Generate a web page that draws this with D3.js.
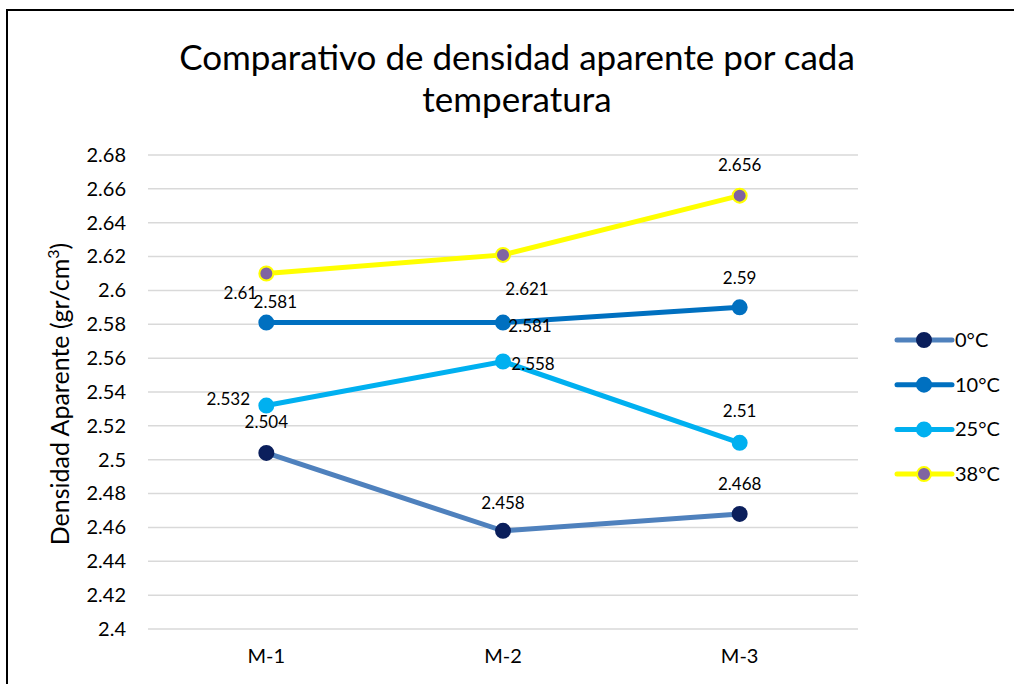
<!DOCTYPE html>
<html>
<head>
<meta charset="utf-8">
<script src="https://cdn.jsdelivr.net/npm/d3@7"></script>
<style>
  body { margin: 0; background: #fff; }
  text { font-family: Lato, "Open Sans", sans-serif; fill: #000; }
</style>
</head>
<body>
<script>
var WIDTH = 1014;
var HEIGHT = 684;

var categories = ["M-1", "M-2", "M-3"];
var seriesNames = ["0°C", "10°C", "25°C", "38°C"];
var values0 = [2.504, 2.458, 2.468];
var values10 = [2.581, 2.581, 2.59];
var values25 = [2.532, 2.558, 2.51];
var values38 = [2.61, 2.621, 2.656];
var yTicks = [2.4, 2.42, 2.44, 2.46, 2.48, 2.5, 2.52, 2.54, 2.56, 2.58, 2.6, 2.62, 2.64, 2.66, 2.68];

// styling per series
var lineColors = ["#4f81bd", "#0070c0", "#00b0f0", "#ffff00"];
var markerFill = ["#0b1f5c", "#0070c0", "#00b0f0", "#8064a2"];
var markerStroke = ["#0b1f5c", "#0070c0", "#00b0f0", "#ffff00"];
// label offsets (dx, dy) from each point, as placed in the original
var labelOffsets = [
  [[0, -29], [0, -26], [0, -28]],
  [[9, -19], [27, 5], [0, -28]],
  [[-38, -5], [30, 4], [0, -30]],
  [[-26, 21], [24, 36], [0, -29]]
];

var allValues = [values0, values10, values25, values38];

var svg = d3.select("body")
  .append("svg")
  .attr("width", WIDTH)
  .attr("height", HEIGHT);

svg.append("rect")
  .attr("width", WIDTH).attr("height", HEIGHT)
  .attr("fill", "#fff");

// outer border (right and bottom edges fall outside the picture)
svg.append("path")
  .attr("d", "M7,700 L7,10 L1030,10")
  .attr("fill", "none")
  .attr("stroke", "#000")
  .attr("stroke-width", 2);

var plotLeft = 148, plotRight = 858, plotTop = 155, plotBottom = 629;

var x = d3.scaleBand().domain(categories).range([plotLeft, plotRight]);
var y = d3.scaleLinear().domain([2.4, 2.68]).range([plotBottom, plotTop]);

// gridlines
svg.append("g")
  .selectAll("line")
  .data(yTicks)
  .enter()
  .append("line")
  .attr("x1", plotLeft).attr("x2", plotRight)
  .attr("y1", function (d) { return y(d); })
  .attr("y2", function (d) { return y(d); })
  .attr("stroke", "#d9d9d9")
  .attr("stroke-width", 1.5);

// y axis labels
var yAxis = svg.append("g")
  .attr("transform", "translate(" + (plotLeft - 10) + ",0)")
  .call(d3.axisLeft(y).tickValues(yTicks).tickSize(0).tickPadding(12)
    .tickFormat(function (d) { return String(+d.toFixed(2)); }));
yAxis.select(".domain").remove();
yAxis.selectAll("text").style("font-size", "20px").attr("fill", "#000");

// x axis labels
var xAxis = svg.append("g")
  .attr("transform", "translate(0," + plotBottom + ")")
  .call(d3.axisBottom(x).tickSize(0).tickPadding(20));
xAxis.select(".domain").remove();
xAxis.selectAll("text").style("font-size", "20px").attr("fill", "#000");

// title
svg.append("text")
  .attr("x", 517).attr("y", 70)
  .attr("text-anchor", "middle")
  .style("font-size", "35px")
  .text("Comparativo de densidad aparente por cada");
svg.append("text")
  .attr("x", 517).attr("y", 112)
  .attr("text-anchor", "middle")
  .style("font-size", "35px")
  .text("temperatura");

// y axis title
var yt = svg.append("text")
  .attr("transform", "translate(69," + ((plotTop + plotBottom) / 2 + 2) + ") rotate(-90)")
  .attr("text-anchor", "middle")
  .style("font-size", "25px");
yt.append("tspan").text("Densidad Aparente (gr/cm");
yt.append("tspan").attr("dy", -10).style("font-size", "16px").text("3");
yt.append("tspan").attr("dy", 10).text(")");

var line = d3.line()
  .x(function (d, i) { return x(categories[i]) + x.bandwidth() / 2; })
  .y(function (d) { return y(d); });

allValues.forEach(function (vals, s) {
  var g = svg.append("g");
  g.append("path")
    .datum(vals)
    .attr("d", line)
    .attr("fill", "none")
    .attr("stroke", lineColors[s])
    .attr("stroke-width", 5)
    .attr("stroke-linecap", "round");
  g.selectAll("circle")
    .data(vals)
    .enter()
    .append("circle")
    .attr("cx", function (d, i) { return x(categories[i]) + x.bandwidth() / 2; })
    .attr("cy", function (d) { return y(d); })
    .attr("r", 7)
    .attr("fill", markerFill[s])
    .attr("stroke", markerStroke[s])
    .attr("stroke-width", 2);
});

// data labels on top
allValues.forEach(function (vals, s) {
  svg.append("g")
    .selectAll("text")
    .data(vals)
    .enter()
    .append("text")
    .attr("x", function (d, i) { return x(categories[i]) + x.bandwidth() / 2 + labelOffsets[s][i][0]; })
    .attr("y", function (d, i) { return y(d) + labelOffsets[s][i][1]; })
    .attr("text-anchor", "middle")
    .attr("dominant-baseline", "middle")
    .style("font-size", "17px")
    .text(function (d) { return d; });
});

// legend
var legend = svg.append("g")
  .selectAll("g")
  .data(seriesNames)
  .enter()
  .append("g")
  .attr("transform", function (d, i) { return "translate(897," + (340 + i * 44.7) + ")"; });
legend.append("line")
  .attr("x1", 0).attr("x2", 55)
  .attr("stroke", function (d, i) { return lineColors[i]; })
  .attr("stroke-width", 5)
  .attr("stroke-linecap", "round");
legend.append("circle")
  .attr("cx", 27).attr("r", 7)
  .attr("fill", function (d, i) { return markerFill[i]; })
  .attr("stroke", function (d, i) { return markerStroke[i]; })
  .attr("stroke-width", 2);
legend.append("text")
  .attr("x", 58).attr("dy", "0.35em")
  .style("font-size", "20px")
  .text(function (d) { return d; });
</script>
</body>
</html>
